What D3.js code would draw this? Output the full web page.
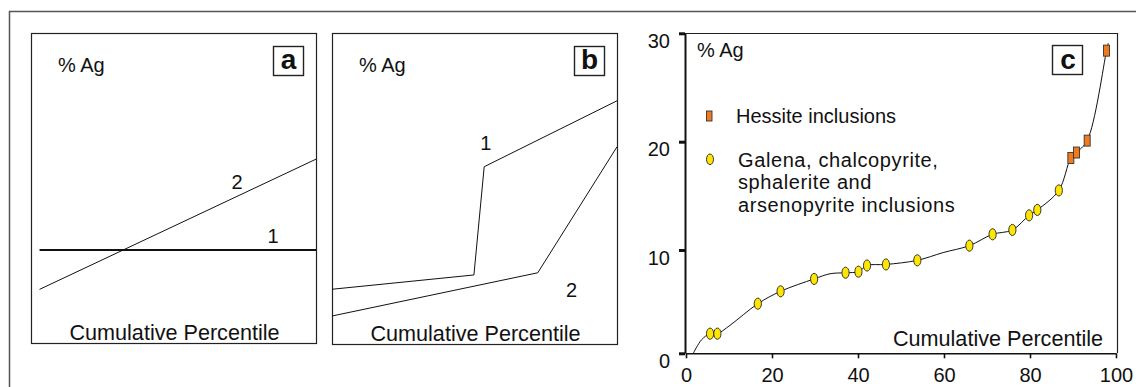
<!DOCTYPE html>
<html>
<head>
<meta charset="utf-8">
<script src="https://cdn.jsdelivr.net/npm/d3@7"></script>
<style>
  body { margin: 0; background: #fff; }
  svg { display: block; font-family: "Liberation Sans", Arial, Helvetica, sans-serif; }
  text { fill: #111; }
</style>
</head>
<body>
<svg id="fig" width="1136" height="387"></svg>
<script>
// ---- panel a (schematic, relative units 0-100) ----
const aLine1X = [3, 100];
const aLine1Y = [30, 30];
const aLine2X = [3, 100];
const aLine2Y = [17.3, 59.3];
const aLabels = [{ t: "2", x: 72.3, y: 51.9 }, { t: "1", x: 84.9, y: 34.5 }];

// ---- panel b (schematic) ----
const bLine1X = [0, 49.8, 53.4, 100];
const bLine1Y = [17.6, 22.2, 57.0, 78.2];
const bLine2X = [0, 72.2, 100];
const bLine2Y = [9.0, 22.9, 63.4];
const bLabels = [{ t: "1", x: 54.0, y: 64.6 }, { t: "2", x: 84.1, y: 17.4 }];

// ---- panel c: measured % Ag vs cumulative percentile ----
const galenaX = [5.6, 7.3, 16.7, 22.0, 29.8, 37.1, 40.1, 42.1, 46.5, 53.8, 65.9, 71.3, 75.9, 79.8, 81.7, 86.7];
const galenaY = [1.9, 1.9, 4.8, 6.0, 7.2, 7.8, 7.9, 8.5, 8.6, 9.0, 10.4, 11.45, 11.85, 13.2, 13.7, 15.5];
const hessiteX = [89.5, 90.8, 93.3, 97.8];
const hessiteY = [18.5, 19.0, 20.1, 28.4];
// extra bends of the drawn trace
const traceX = [1.7, 3.6, 10.2, 33.5, 59.8, 98.2];
const traceY = [0, 1.3, 2.7, 7.7, 9.75, 29.1];
const xTicks = [0, 20, 40, 60, 80, 100];
const yTicks = [0, 10, 20, 30];
const legendLabels = ["Hessite inclusions", "Galena, chalcopyrite,", "sphalerite and", "arsenopyrite inclusions"];

const svg = d3.select("#fig");

// outer frame
svg.append("path")
    .attr("d", "M9.5,387 V11.5 H1136")
    .attr("fill", "none")
    .attr("stroke", "#555")
    .attr("stroke-width", 1.5);

function zip(xs, ys) { return xs.map((x, i) => [x, ys[i]]); }

function schematic(x0, y0, w, h, lines, labels, letter) {
    let x = d3.scaleLinear().domain([0, 100]).range([x0, x0 + w]);
    let y = d3.scaleLinear().domain([0, 100]).range([y0 + h, y0]);
    let g = svg.append("g");
    g.append("rect")
        .attr("x", x0 + 0.5).attr("y", y0 + 0.5)
        .attr("width", w).attr("height", h)
        .attr("fill", "none").attr("stroke", "#222").attr("stroke-width", 1.2);

    let line = d3.line().x(d => x(d[0])).y(d => y(d[1]));
    lines.forEach(l => {
        g.append("path")
            .attr("d", line(l.pts))
            .attr("fill", "none")
            .attr("stroke", "#111")
            .attr("stroke-width", l.w);
    });
    labels.forEach(l => {
        g.append("text")
            .attr("x", x(l.x)).attr("y", y(l.y))
            .attr("dy", "0.35em")
            .attr("text-anchor", "middle")
            .attr("font-size", 20)
            .text(l.t);
    });
    g.append("text")
        .attr("x", x0 + 27).attr("y", y0 + 39)
        .attr("font-size", 20)
        .text("% Ag");
    g.append("text")
        .attr("x", x0 + w / 2 + 1).attr("y", y0 + h - 3)
        .attr("text-anchor", "middle")
        .attr("font-size", 21.6)
        .text("Cumulative Percentile");
    // letter box
    let bx = x0 + w - 43, by = y0 + 13;
    g.append("rect")
        .attr("x", bx + 0.5).attr("y", by + 0.5)
        .attr("width", 30).attr("height", 29)
        .attr("fill", "#fff").attr("stroke", "#222").attr("stroke-width", 1.4);
    g.append("text")
        .attr("x", bx + 15.5).attr("y", by + 22.5)
        .attr("text-anchor", "middle")
        .attr("font-size", 28).attr("font-weight", "bold")
        .text(letter);
}

schematic(31, 33, 285, 310,
    [{ pts: zip(aLine1X, aLine1Y), w: 2 }, { pts: zip(aLine2X, aLine2Y), w: 1 }],
    aLabels, "a");
schematic(332, 33, 285, 311,
    [{ pts: zip(bLine1X, bLine1Y), w: 1 }, { pts: zip(bLine2X, bLine2Y), w: 1 }],
    bLabels, "b");

// ---- panel c ----
const cx = d3.scaleLinear().domain([0, 100]).range([686, 1116]);
// the printed axis is slightly uneven, so map each labelled tick
const cy = d3.scaleLinear().domain([0, 10, 20, 30]).range([353.3, 250, 141.7, 33.3]);

const gc = svg.append("g");
gc.append("path")
    .attr("d", `M685,33.5 H1117.5 V353`)
    .attr("fill", "none").attr("stroke", "#222").attr("stroke-width", 1.2);

const xAxis = gc.append("g")
    .attr("transform", "translate(0,353.3)")
    .call(d3.axisBottom(cx).tickValues(xTicks).tickSize(5).tickSizeOuter(0).tickPadding(10));
xAxis.select(".domain").attr("stroke", "#111").attr("stroke-width", 1.6);
xAxis.selectAll(".tick line").attr("stroke", "#111").attr("stroke-width", 1.6);
xAxis.selectAll(".tick text")
    .attr("font-size", 20).attr("font-family", "Liberation Sans, Arial, sans-serif")
    .attr("fill", "#111").attr("dy", "0.7em");

const yAxis = gc.append("g")
    .attr("transform", "translate(685,0)")
    .call(d3.axisLeft(cy).tickValues(yTicks).tickSize(6).tickSizeOuter(0).tickPadding(9));
yAxis.select(".domain").attr("stroke", "#111").attr("stroke-width", 2);
yAxis.selectAll(".tick line").attr("stroke", "#111").attr("stroke-width", 3);
yAxis.selectAll(".tick text")
    .attr("font-size", 20).attr("font-family", "Liberation Sans, Arial, sans-serif")
    .attr("fill", "#111").attr("dy", "0.85em").attr("y", -3);

gc.append("text").attr("x", 697).attr("y", 57).attr("font-size", 20).text("% Ag");
gc.append("text").attr("x", 998).attr("y", 346)
    .attr("text-anchor", "middle").attr("font-size", 21.6)
    .text("Cumulative Percentile");

// trace through all points
const trace = zip(traceX, traceY)
    .concat(zip(galenaX, galenaY), zip(hessiteX, hessiteY))
    .sort((p, q) => p[0] - q[0]);
gc.append("path")
    .attr("d", d3.line().x(d => cx(d[0])).y(d => cy(d[1])).curve(d3.curveCatmullRom.alpha(0.5))(trace))
    .attr("fill", "none").attr("stroke", "#111").attr("stroke-width", 1);

gc.selectAll("ellipse.gal")
    .data(zip(galenaX, galenaY))
    .enter().append("ellipse")
    .attr("class", "gal")
    .attr("cx", d => cx(d[0])).attr("cy", d => cy(d[1]))
    .attr("rx", 3.6).attr("ry", 5.6)
    .attr("fill", "#FFE600").attr("stroke", "#222").attr("stroke-width", 0.9);

gc.selectAll("rect.hes")
    .data(zip(hessiteX, hessiteY))
    .enter().append("rect")
    .attr("class", "hes")
    .attr("x", d => cx(d[0]) - 3).attr("y", d => cy(d[1]) - 5.5)
    .attr("width", 6).attr("height", 11)
    .attr("fill", "#F07A1E").attr("stroke", "#333").attr("stroke-width", 0.9);

// letter box c
gc.append("rect")
    .attr("x", 1052.5).attr("y", 45.5).attr("width", 30).attr("height", 29)
    .attr("fill", "#fff").attr("stroke", "#222").attr("stroke-width", 1.4);
gc.append("text")
    .attr("x", 1068).attr("y", 69)
    .attr("text-anchor", "middle").attr("font-size", 28).attr("font-weight", "bold")
    .text("c");

// legend
gc.append("rect")
    .attr("x", 706.5).attr("y", 111).attr("width", 5.5).attr("height", 10)
    .attr("fill", "#F07A1E").attr("stroke", "#333").attr("stroke-width", 0.9);
gc.append("text").attr("x", 736).attr("y", 123.3).attr("font-size", 20).text(legendLabels[0]);
gc.append("ellipse")
    .attr("cx", 710).attr("cy", 159.3).attr("rx", 3.5).attr("ry", 5.3)
    .attr("fill", "#FFE600").attr("stroke", "#222").attr("stroke-width", 0.9);
legendLabels.slice(1).forEach((t, i) => {
    gc.append("text").attr("x", 738).attr("y", 166.7 + i * 22.5)
        .attr("font-size", 20).attr("letter-spacing", 0.6)
        .text(t);
});
</script>
</body>
</html>
